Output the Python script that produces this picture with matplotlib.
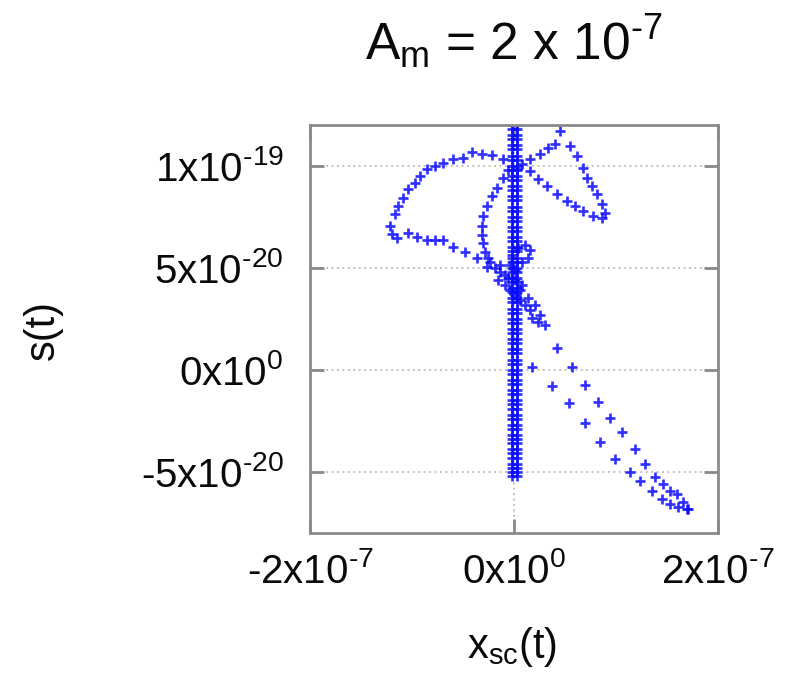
import matplotlib
matplotlib.use("Agg")
import matplotlib.pyplot as plt
import numpy as np

plt.rcParams['font.family'] = ['Liberation Sans', 'DejaVu Sans']
plt.rcParams['mathtext.fontset'] = 'custom'
plt.rcParams['mathtext.rm'] = 'Liberation Sans'
plt.rcParams['mathtext.it'] = 'Liberation Sans'
plt.rcParams['mathtext.bf'] = 'Liberation Sans'

# units: x in 1e-8, s in 1e-20
X_UNIT = 1e-8
S_UNIT = 1e-20

# vertical column near x = 0
col_x_a = -0.15
col_x_b = 0.25
col_s = [-5.2, -5.0, -4.8, -4.6, -4.3, -4.1, -3.9, -3.6, -3.4, -3.2, -2.9, -2.7, -2.4, -2.2,
         -1.9, -1.7, -1.5, -1.2, -1.0, -0.7, -0.5, -0.2, 0.0, 0.3, 0.5, 0.8, 1.0, 1.3, 1.5,
         1.8, 2.0, 2.3, 2.5, 2.8, 3.0, 3.3, 3.5, 3.8, 4.0, 4.3, 4.5, 4.8, 5.0, 5.3, 5.5, 5.8,
         6.0, 6.3, 6.5, 6.8, 7.0, 7.3, 7.5, 7.8, 8.0, 8.3, 8.5, 8.8, 9.0, 9.3, 9.5, 9.8, 10.0,
         10.3, 10.5, 10.8, 11.0, 11.3, 11.5, 11.8, 12.0]

# left outer loop
left_x = [-1.08, -2.16, -3.14, -4.12, -5.0, -5.98, -6.96, -7.74, -8.53, -9.21, -9.70, -10.39,
          -10.88, -11.37, -11.66, -12.15, -11.96, -11.47, -10.39, -9.51, -8.53, -7.74, -6.96,
          -5.98, -4.80, -3.63, -2.65]
left_s = [10.34, 10.54, 10.59, 10.68, 10.39, 10.34, 10.15, 10.0, 9.85, 9.51, 9.17, 8.88,
          8.44, 8.05, 7.66, 7.07, 6.68, 6.44, 6.73, 6.49, 6.34, 6.34, 6.34,
          6.0, 5.76, 5.46, 5.02]

# right loop
right_x = [0.29, 1.57, 2.55, 3.33, 4.02, 4.51, 5.49, 6.17, 6.76, 7.15, 7.64, 8.13, 8.62, 8.92,
           8.62, 7.74, 6.76, 5.98, 5.19, 4.21, 3.23, 2.35, 1.57, 0.78]
right_s = [9.85, 10.34, 10.59, 10.88, 11.07, 11.71, 10.98, 10.49, 9.90, 9.41, 9.02, 8.63, 8.15, 7.71,
           7.46, 7.56, 7.80, 8.05, 8.29, 8.63, 9.02, 9.37, 9.76, 10.10]

# inner arc left of the column
arc_x = [-0.6, -1.08, -1.67, -2.16, -2.65, -3.04, -3.14, -3.14, -3.04, -2.84, -2.55]
arc_s = [9.8, 9.41, 8.93, 8.54, 8.05, 7.56, 7.07, 6.59, 6.20, 5.76, 5.46]

# central cluster
clu_x = [-2.35, -1.86, -1.37, -0.88, -1.57, -0.88, -0.39, 0.10, 0.59, 1.08, 1.57, 0.78, 0.10,
         -0.39, -0.20, 0.39, 1.08, 1.57, 1.37, 0.78, 0.10, -0.59, -1.37, 0.59, 1.37, 2.06,
         1.76, 2.35, 2.55]
clu_s = [5.27, 4.98, 4.78, 4.63, 4.39, 4.15, 3.90, 3.66, 3.41, 3.17, 2.93, 4.15, 4.39,
         5.12, 5.61, 5.95, 6.10, 5.85, 5.46, 5.27, 4.88, 4.49, 5.12, 3.90, 3.51, 3.17,
         2.54, 2.34, 2.68]

# lower-right tails
tail1_x = [3.04, 4.21, 5.68, 6.96, 8.23, 9.41, 10.58, 11.86, 12.84, 13.82, 14.60, 15.29, 15.97,
           16.56, 17.05]
tail1_s = [2.20, 1.07, 0.15, -0.73, -1.56, -2.34, -3.07, -3.90, -4.63, -5.27, -5.61, -5.95, -6.10,
           -6.49, -6.83]
tail2_x = [1.76, 3.72, 5.39, 6.96, 8.43, 9.90, 11.37, 12.35, 13.52, 14.50, 15.29, 16.07, 16.95]
tail2_s = [0.15, -0.78, -1.61, -2.59, -3.56, -4.39, -5.02, -5.46, -5.95, -6.34, -6.59, -6.73, -6.83]

xticks = [-2e-7, 0, 2e-7]
xticklabels = [r'-2x10$^{\text{-7}}$', r'0x10$^{0}$', r'2x10$^{\text{-7}}$']
yticks = [-5e-20, 0, 5e-20, 1e-19]
yticklabels = [r'-5x10$^{\text{-20}}$', r'0x10$^{0}$', r'5x10$^{\text{-20}}$', r'1x10$^{\text{-19}}$']

W, H = 807, 674
fig = plt.figure(figsize=(W / 100, H / 100), dpi=100)
ax = fig.add_axes([310 / W, 1 - 533 / H, 408 / W, 408 / H])

blue = '#0a0aff'
mk = dict(marker='+', linestyle='none', color=blue, markersize=7, mew=1.9, alpha=0.85)

def plot(xs, ss):
    ax.plot(np.array(xs) * X_UNIT, np.array(ss) * S_UNIT, **mk)

plot([col_x_a] * len(col_s), col_s)
plot([col_x_b] * len(col_s), col_s)
plot(left_x, left_s)
plot(right_x, right_s)
plot(arc_x, arc_s)
plot(clu_x, clu_s)
plot(tail1_x, tail1_s)
plot(tail2_x, tail2_s)

ax.set_xlim(-2e-7, 2e-7)
ax.set_ylim(-8e-20, 1.2e-19)
ax.set_xticks(xticks)
ax.set_xticklabels(xticklabels)
ax.set_yticks(yticks)
ax.set_yticklabels(yticklabels)

gray = '#8a8a8a'
for sp in ax.spines.values():
    sp.set_color(gray)
    sp.set_linewidth(2)
ax.tick_params(direction='in', length=10, width=2, color=gray, labelsize=29,
               top=True, right=True, labelcolor='#0a0a0a')
ax.tick_params(axis='y', pad=19)
ax.tick_params(axis='x', pad=14)
ax.grid(True, color='#b8b8b8', linestyle=(0, (1, 2)), linewidth=1.3)
ax.set_axisbelow(True)

fig.text(514 / W, 1 - 42 / H, r'A$_{\mathrm{m}}$ = 2 x 10$^{\text{-7}}$', ha='center', va='center',
         fontsize=37, color='#0a0a0a')
fig.text(43 / W, 1 - 330 / H, 's(t)', rotation=90, ha='center', va='center', fontsize=30,
         color='#0a0a0a')
fig.text(512 / W, 1 - 647 / H, r'x$_{\mathrm{sc}}$(t)', ha='center', va='center', fontsize=30,
         color='#0a0a0a')

fig.savefig('out.png', dpi=100)
